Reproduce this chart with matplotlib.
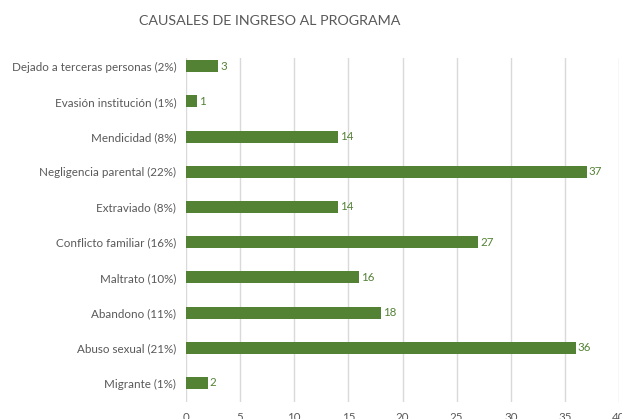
import numpy as np
import matplotlib
matplotlib.use("Agg")
import matplotlib.pyplot as plt

# categories listed bottom to top
categories = ["Migrante (1%)", "Abuso sexual (21%)", "Abandono (11%)",
              "Maltrato (10%)", "Conflicto familiar (16%)", "Extraviado (8%)",
              "Negligencia parental (22%)", "Mendicidad (8%)",
              "Evasión institución (1%)", "Dejado a terceras personas (2%)"]
counts = [2, 36, 18, 16, 27, 14, 37, 14, 1, 3]
xTicks = [0, 5, 10, 15, 20, 25, 30, 35, 40]

barColor = "#548235"
textColor = "#595959"
plt.rcParams['font.family'] = ['Lato', 'DejaVu Sans']

W, H = 622, 419
fig = plt.figure(figsize=(W/100, H/100), dpi=100)
ax = fig.add_axes([186/W, 1-402/H, (619-186)/W, (402-58)/H])
y = np.arange(len(categories))
ax.barh(y, counts, height=0.34, color=barColor, zorder=3)
for yi, c in zip(y, counts):
    ax.annotate(str(c), (c, yi), xytext=(1.5, 0), textcoords="offset points",
                va="center", ha="left", color=barColor, fontsize=8.3)
ax.set_xlim(0, 40)
ax.set_ylim(-0.54, 9.23)
ax.set_yticks(y)
ax.set_yticklabels(categories, fontsize=8.4, color=textColor)
ax.set_xticks(xTicks)
ax.set_xticklabels([str(t) for t in xTicks], fontsize=8.3, color=textColor)
ax.tick_params(axis="both", length=0)
ax.tick_params(axis="x", pad=7)
ax.tick_params(axis="y", pad=7)
ax.grid(axis="x", color="#d9d9d9", linewidth=1, zorder=0)
for s in ax.spines.values():
    s.set_visible(False)
fig.text(270/W, 1-21/H, "CAUSALES DE INGRESO AL PROGRAMA", ha="center",
         va="center", fontsize=10.3, color=textColor)
fig.savefig("out.png", dpi=100)
